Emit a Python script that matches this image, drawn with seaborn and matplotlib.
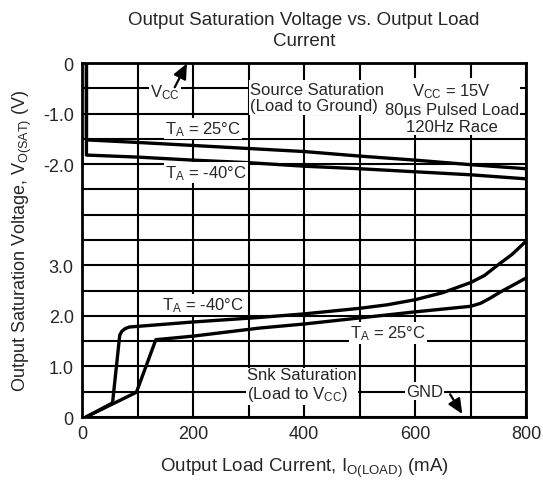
import numpy as np
import pandas as pd
import matplotlib
matplotlib.use("Agg")
import matplotlib.pyplot as plt
import seaborn as sns

sns.set_style("white")
plt.rcParams['font.family'] = ['Liberation Sans', 'DejaVu Sans']
plt.rcParams['mathtext.fontset'] = 'custom'
plt.rcParams['mathtext.rm'] = 'Liberation Sans'
plt.rcParams['mathtext.it'] = 'Liberation Sans'

# Source saturation (voltage relative to Vcc, negative)
src_25_x = [8, 8, 100, 200, 300, 400, 500, 600, 700, 800]
src_25_v = [0, -1.52, -1.57, -1.63, -1.69, -1.75, -1.84, -1.92, -2.01, -2.09]
src_m40_x = [8, 8, 100, 200, 300, 400, 500, 600, 700, 800]
src_m40_v = [0, -1.82, -1.86, -1.92, -1.97, -2.04, -2.09, -2.15, -2.21, -2.29]

# Sink saturation (voltage relative to GND)
snk_25_x = [7, 98, 133, 200, 320, 400, 500, 600, 700, 718, 735, 753, 775, 800]
snk_25_v = [0, 0.49, 1.53, 1.60, 1.76, 1.84, 1.96, 2.08, 2.19, 2.25, 2.35, 2.47, 2.60, 2.75]
snk_m40_x = [7, 55, 68, 72, 78, 85, 200, 320, 400, 500, 550, 600, 650, 700, 725, 747, 775, 800]
snk_m40_v = [0, 0.28, 1.62, 1.70, 1.75, 1.78, 1.88, 1.97, 2.04, 2.15, 2.22, 2.32, 2.46, 2.66, 2.80, 2.99, 3.22, 3.48]

# axis: lower half reads sink volts, upper part reads source volts offset by 7
SRC_OFFSET = 7.0
ytick_pos = [7.0, 6.0, 5.0, 3.0, 2.0, 1.0, 0.0]
ytick_lab = ["0", "-1.0", "-2.0", "3.0", "2.0", "1.0", "0"]
xtick_lab = [0, 200, 400, 600, 800]

fig = plt.figure(figsize=(5.43, 4.85), dpi=100)
ax = fig.add_axes([0.151, 0.138, 0.818, 0.730])

curves = [
    (src_25_x, np.array(src_25_v) + SRC_OFFSET),
    (src_m40_x, np.array(src_m40_v) + SRC_OFFSET),
    (snk_25_x, snk_25_v),
    (snk_m40_x, snk_m40_v),
]
for xs, ys in curves:
    df = pd.DataFrame({"x": xs, "y": ys})
    sns.lineplot(data=df, x="x", y="y", sort=False, estimator=None,
                 color="black", lw=2.4, ax=ax, zorder=4)

ax.set_xlim(0, 800)
ax.set_ylim(0, 7)
ax.set_xticks(np.arange(0, 801, 100))
ax.set_xticklabels([str(v) if v in xtick_lab else "" for v in range(0, 801, 100)],
                   fontsize=13)
yt = np.arange(0, 7.01, 0.5)
ax.set_yticks(yt)
lab_map = dict(zip(ytick_pos, ytick_lab))
ax.set_yticklabels([lab_map.get(round(v, 1), "") for v in yt], fontsize=13)
ax.tick_params(length=0, pad=6)
ax.grid(True, color="black", lw=1.5, zorder=1)
ax.set_axisbelow(True)
for s in ax.spines.values():
    s.set_color("black")
    s.set_linewidth(2)

ax.set_xlabel("Output Load Current, I$_{\\mathrm{O(LOAD)}}$ (mA)", fontsize=13.5, labelpad=10)
ax.set_ylabel("Output Saturation Voltage, V$_{\\mathrm{O(SAT)}}$ (V)", fontsize=13, labelpad=6)
ax.set_title("Output Saturation Voltage vs. Output Load\nCurrent", fontsize=13.5,
             pad=13, linespacing=1.3)

fs = 12
box = dict(facecolor="white", edgecolor="none", pad=1)
arrow = dict(arrowstyle="-|>,head_length=1.0,head_width=0.45", color="black", lw=1.6,
             mutation_scale=9, shrinkA=0, shrinkB=0)
ax.text(150, 6.43, "V$_{\\mathrm{CC}}$", fontsize=fs, ha="center", va="center", bbox=box, zorder=5)
ax.annotate("", xy=(189, 6.99), xytext=(167, 6.52), arrowprops=arrow, zorder=6)
ax.text(303, 6.32, "Source Saturation\n(Load to Ground)", fontsize=fs, ha="left",
        va="center", linespacing=1.15, bbox=box, zorder=5)
ax.text(666, 6.12, "V$_{\\mathrm{CC}}$ = 15V\n80µs Pulsed Load\n120Hz Race", fontsize=fs,
        ha="center", va="center", linespacing=1.15, bbox=box, zorder=5)
ax.text(218, 5.70, "T$_{\\mathrm{A}}$ = 25°C", fontsize=fs, ha="center", va="center", bbox=box, zorder=5)
ax.text(223, 4.83, "T$_{\\mathrm{A}}$ = -40°C", fontsize=fs, ha="center", va="center", bbox=box, zorder=5)
ax.text(218, 2.23, "T$_{\\mathrm{A}}$ = -40°C", fontsize=fs, ha="center", va="center", bbox=box, zorder=5)
ax.text(551, 1.66, "T$_{\\mathrm{A}}$ = 25°C", fontsize=fs, ha="center", va="center", bbox=box, zorder=5)
ax.text(297, 0.63, "Snk Saturation\n(Load to V$_{\\mathrm{CC}}$)", fontsize=fs, ha="left",
        va="center", linespacing=1.15, bbox=box, zorder=5)
ax.text(617, 0.51, "GND", fontsize=fs, ha="center", va="center", bbox=box, zorder=5)
ax.annotate("", xy=(685, 0.06), xytext=(663, 0.45), arrowprops=arrow, zorder=6)

fig.savefig("out.png", dpi=100)
